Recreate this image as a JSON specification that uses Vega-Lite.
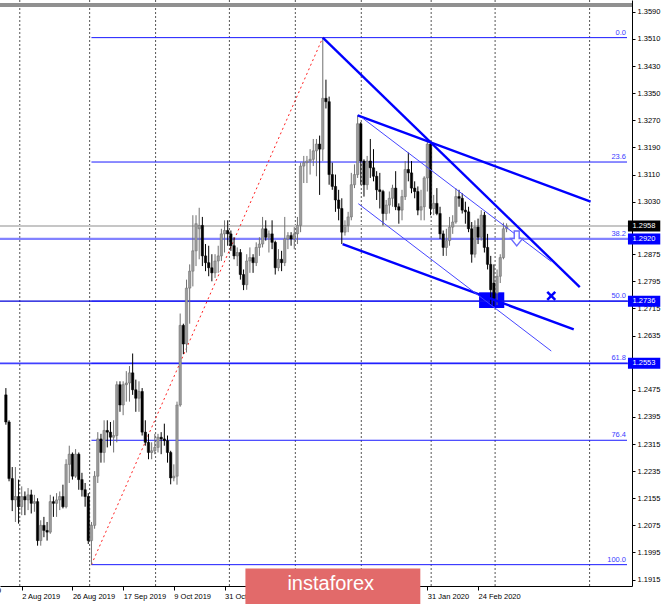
{
"$schema":"https://vega.github.io/schema/vega-lite/v6.json",
"width":632,"height":586,
"autosize":{"type":"none"},
"padding":{"left":0,"top":0,"right":33,"bottom":18},
"background":"white",
"config":{"view":{"stroke":null},"font":"Liberation Sans",
 "axis":{"labelOverlap":false},
 "axisX":{"orient":"bottom","title":null,"grid":false,
   "domainColor":"#000000","domainWidth":1,"tickColor":"#000000","tickSize":4,"labelFont":"Liberation Sans","labelFontSize":7.5,"labelColor":"#000000","labelAlign":"left","labelBaseline":"top","labelPadding":2,"labelDx":-3,"labelFlush":false,"labelOverlap":false,"labelBound":false},
 "axisY":{"orient":"right","title":null,"grid":false,
   "domainColor":"#000000","domainWidth":1,"tickColor":"#000000","tickSize":3,"labelFont":"Liberation Sans","labelFontSize":7.5,"labelColor":"#000000","labelAlign":"left","labelBaseline":"middle","labelPadding":2,"labelFlush":false,"labelOverlap":false,"labelBound":false}
},
"datasets":{
"candles":[
{"i":-5,"o":1.2460,"h":1.2480,"l":1.2372,"c":1.2380},
{"i":-4,"o":1.2380,"h":1.2385,"l":1.2205,"c":1.2213},
{"i":-3,"o":1.2213,"h":1.2247,"l":1.2117,"c":1.2150},
{"i":-2,"o":1.2150,"h":1.2247,"l":1.2085,"c":1.2160},
{"i":-1,"o":1.2160,"h":1.2210,"l":1.2080,"c":1.2130},
{"i":0,"o":1.2130,"h":1.2190,"l":1.2105,"c":1.2160},
{"i":1,"o":1.2160,"h":1.2175,"l":1.2105,"c":1.2150},
{"i":2,"o":1.2150,"h":1.2185,"l":1.2120,"c":1.2165},
{"i":3,"o":1.2165,"h":1.2180,"l":1.2110,"c":1.2140},
{"i":4,"o":1.2140,"h":1.2165,"l":1.2115,"c":1.2145},
{"i":5,"o":1.2145,"h":1.2155,"l":1.2015,"c":1.2030},
{"i":6,"o":1.2030,"h":1.2090,"l":1.2015,"c":1.2075},
{"i":7,"o":1.2075,"h":1.2100,"l":1.2040,"c":1.2060},
{"i":8,"o":1.2060,"h":1.2085,"l":1.2030,"c":1.2055},
{"i":9,"o":1.2055,"h":1.2165,"l":1.2050,"c":1.2145},
{"i":10,"o":1.2145,"h":1.2160,"l":1.2100,"c":1.2140},
{"i":11,"o":1.2140,"h":1.2170,"l":1.2100,"c":1.2150},
{"i":12,"o":1.2150,"h":1.2175,"l":1.2120,"c":1.2160},
{"i":13,"o":1.2160,"h":1.2195,"l":1.2125,"c":1.2130},
{"i":14,"o":1.2130,"h":1.2270,"l":1.2125,"c":1.2255},
{"i":15,"o":1.2255,"h":1.2310,"l":1.2200,"c":1.2285},
{"i":16,"o":1.2285,"h":1.2290,"l":1.2210,"c":1.2220},
{"i":17,"o":1.2220,"h":1.2300,"l":1.2215,"c":1.2285},
{"i":18,"o":1.2285,"h":1.2290,"l":1.2180,"c":1.2210},
{"i":19,"o":1.2210,"h":1.2230,"l":1.2160,"c":1.2180},
{"i":20,"o":1.2180,"h":1.2200,"l":1.2130,"c":1.2160},
{"i":21,"o":1.2160,"h":1.2170,"l":1.2020,"c":1.2030},
{"i":22,"o":1.2030,"h":1.2085,"l":1.1959,"c":1.2075},
{"i":23,"o":1.2075,"h":1.2235,"l":1.2065,"c":1.2220},
{"i":24,"o":1.2220,"h":1.2350,"l":1.2200,"c":1.2330},
{"i":25,"o":1.2330,"h":1.2345,"l":1.2260,"c":1.2290},
{"i":26,"o":1.2290,"h":1.2385,"l":1.2260,"c":1.2355},
{"i":27,"o":1.2355,"h":1.2385,"l":1.2305,"c":1.2350},
{"i":28,"o":1.2350,"h":1.2380,"l":1.2310,"c":1.2335},
{"i":29,"o":1.2335,"h":1.2385,"l":1.2290,"c":1.2340},
{"i":30,"o":1.2340,"h":1.2500,"l":1.2320,"c":1.2490},
{"i":31,"o":1.2490,"h":1.2500,"l":1.2410,"c":1.2430},
{"i":32,"o":1.2430,"h":1.2500,"l":1.2400,"c":1.2490},
{"i":33,"o":1.2490,"h":1.2530,"l":1.2440,"c":1.2495},
{"i":34,"o":1.2495,"h":1.2545,"l":1.2440,"c":1.2525},
{"i":35,"o":1.2525,"h":1.2582,"l":1.2460,"c":1.2475},
{"i":36,"o":1.2475,"h":1.2505,"l":1.2410,"c":1.2450},
{"i":37,"o":1.2450,"h":1.2500,"l":1.2410,"c":1.2470},
{"i":38,"o":1.2470,"h":1.2480,"l":1.2340,"c":1.2350},
{"i":39,"o":1.2350,"h":1.2385,"l":1.2310,"c":1.2320},
{"i":40,"o":1.2320,"h":1.2345,"l":1.2270,"c":1.2290},
{"i":41,"o":1.2290,"h":1.2320,"l":1.2270,"c":1.2295},
{"i":42,"o":1.2295,"h":1.2345,"l":1.2285,"c":1.2305},
{"i":43,"o":1.2305,"h":1.2345,"l":1.2290,"c":1.2335},
{"i":44,"o":1.2335,"h":1.2350,"l":1.2285,"c":1.2330},
{"i":45,"o":1.2330,"h":1.2375,"l":1.2310,"c":1.2325},
{"i":46,"o":1.2325,"h":1.2340,"l":1.2260,"c":1.2290},
{"i":47,"o":1.2290,"h":1.2295,"l":1.2196,"c":1.2215},
{"i":48,"o":1.2215,"h":1.2255,"l":1.2205,"c":1.2220},
{"i":49,"o":1.2220,"h":1.2440,"l":1.2195,"c":1.2430},
{"i":50,"o":1.2430,"h":1.2700,"l":1.2425,"c":1.2665},
{"i":51,"o":1.2665,"h":1.2670,"l":1.2580,"c":1.2610},
{"i":52,"o":1.2610,"h":1.2800,"l":1.2585,"c":1.2775},
{"i":53,"o":1.2775,"h":1.2845,"l":1.2670,"c":1.2825},
{"i":54,"o":1.2825,"h":1.2990,"l":1.2780,"c":1.2885},
{"i":55,"o":1.2885,"h":1.2990,"l":1.2840,"c":1.2965},
{"i":56,"o":1.2950,"h":1.3012,"l":1.2860,"c":1.2960},
{"i":57,"o":1.2960,"h":1.2985,"l":1.2840,"c":1.2870},
{"i":58,"o":1.2870,"h":1.2905,"l":1.2825,"c":1.2850},
{"i":59,"o":1.2850,"h":1.2900,"l":1.2810,"c":1.2835},
{"i":60,"o":1.2835,"h":1.2875,"l":1.2795,"c":1.2820},
{"i":61,"o":1.2820,"h":1.2875,"l":1.2805,"c":1.2855},
{"i":62,"o":1.2855,"h":1.2900,"l":1.2820,"c":1.2870},
{"i":63,"o":1.2870,"h":1.2950,"l":1.2855,"c":1.2935},
{"i":64,"o":1.2935,"h":1.2975,"l":1.2880,"c":1.2945},
{"i":65,"o":1.2945,"h":1.2975,"l":1.2900,"c":1.2935},
{"i":66,"o":1.2935,"h":1.2945,"l":1.2885,"c":1.2900},
{"i":67,"o":1.2900,"h":1.2925,"l":1.2860,"c":1.2870},
{"i":68,"o":1.2870,"h":1.2895,"l":1.2840,"c":1.2880},
{"i":69,"o":1.2880,"h":1.2890,"l":1.2800,"c":1.2815},
{"i":70,"o":1.2815,"h":1.2830,"l":1.2769,"c":1.2785},
{"i":71,"o":1.2785,"h":1.2875,"l":1.2770,"c":1.2855},
{"i":72,"o":1.2855,"h":1.2895,"l":1.2820,"c":1.2865},
{"i":73,"o":1.2865,"h":1.2875,"l":1.2820,"c":1.2850},
{"i":74,"o":1.2850,"h":1.2910,"l":1.2840,"c":1.2895},
{"i":75,"o":1.2895,"h":1.2925,"l":1.2870,"c":1.2905},
{"i":76,"o":1.2905,"h":1.2985,"l":1.2895,"c":1.2950},
{"i":77,"o":1.2950,"h":1.2975,"l":1.2915,"c":1.2925},
{"i":78,"o":1.2925,"h":1.2945,"l":1.2880,"c":1.2935},
{"i":79,"o":1.2935,"h":1.2975,"l":1.2890,"c":1.2910},
{"i":80,"o":1.2910,"h":1.2915,"l":1.2815,"c":1.2835},
{"i":81,"o":1.2835,"h":1.2890,"l":1.2825,"c":1.2860},
{"i":82,"o":1.2860,"h":1.2885,"l":1.2825,"c":1.2850},
{"i":83,"o":1.2850,"h":1.2985,"l":1.2840,"c":1.2920},
{"i":84,"o":1.2920,"h":1.2940,"l":1.2890,"c":1.2930},
{"i":85,"o":1.2930,"h":1.2940,"l":1.2900,"c":1.2920},
{"i":86,"o":1.2920,"h":1.2955,"l":1.2890,"c":1.2935},
{"i":87,"o":1.2935,"h":1.2985,"l":1.2905,"c":1.2960},
{"i":88,"o":1.2960,"h":1.3145,"l":1.2940,"c":1.3135},
{"i":89,"o":1.3135,"h":1.3165,"l":1.3085,"c":1.3145},
{"i":90,"o":1.3145,"h":1.3165,"l":1.3085,"c":1.3150},
{"i":91,"o":1.3150,"h":1.3185,"l":1.3110,"c":1.3155},
{"i":92,"o":1.3155,"h":1.3215,"l":1.3135,"c":1.3180},
{"i":93,"o":1.3180,"h":1.3215,"l":1.3105,"c":1.3200},
{"i":94,"o":1.3200,"h":1.3225,"l":1.3050,"c":1.3185},
{"i":95,"o":1.3185,"h":1.3514,"l":1.3150,"c":1.3335},
{"i":96,"o":1.3335,"h":1.3390,"l":1.3305,"c":1.3325},
{"i":97,"o":1.3325,"h":1.3340,"l":1.3080,"c":1.3110},
{"i":98,"o":1.3110,"h":1.3145,"l":1.3065,"c":1.3075},
{"i":99,"o":1.3075,"h":1.3110,"l":1.3000,"c":1.3035},
{"i":100,"o":1.3035,"h":1.3065,"l":1.2975,"c":1.3010},
{"i":101,"o":1.3010,"h":1.3040,"l":1.2905,"c":1.2940},
{"i":102,"o":1.2940,"h":1.2975,"l":1.2930,"c":1.2960},
{"i":103,"o":1.2960,"h":1.3000,"l":1.2940,"c":1.2985},
{"i":104,"o":1.2985,"h":1.3115,"l":1.2975,"c":1.3080},
{"i":105,"o":1.3080,"h":1.3140,"l":1.3070,"c":1.3110},
{"i":106,"o":1.3110,"h":1.3285,"l":1.3100,"c":1.3260},
{"i":107,"o":1.3260,"h":1.3265,"l":1.3080,"c":1.3150},
{"i":108,"o":1.3150,"h":1.3155,"l":1.3045,"c":1.3080},
{"i":109,"o":1.3080,"h":1.3165,"l":1.3065,"c":1.3150},
{"i":110,"o":1.3150,"h":1.3215,"l":1.3100,"c":1.3130},
{"i":111,"o":1.3130,"h":1.3185,"l":1.3090,"c":1.3105},
{"i":112,"o":1.3105,"h":1.3120,"l":1.3035,"c":1.3065},
{"i":113,"o":1.3065,"h":1.3115,"l":1.3010,"c":1.3060},
{"i":114,"o":1.3060,"h":1.3065,"l":1.2960,"c":1.2995},
{"i":115,"o":1.2995,"h":1.3035,"l":1.2975,"c":1.3020},
{"i":116,"o":1.3020,"h":1.3060,"l":1.2995,"c":1.3040},
{"i":117,"o":1.3040,"h":1.3080,"l":1.3015,"c":1.3070},
{"i":118,"o":1.3070,"h":1.3120,"l":1.3005,"c":1.3015},
{"i":119,"o":1.3015,"h":1.3025,"l":1.2965,"c":1.3005},
{"i":120,"o":1.3005,"h":1.3065,"l":1.2975,"c":1.3045},
{"i":121,"o":1.3045,"h":1.3150,"l":1.3035,"c":1.3125},
{"i":122,"o":1.3125,"h":1.3175,"l":1.3090,"c":1.3115},
{"i":123,"o":1.3115,"h":1.3150,"l":1.3055,"c":1.3070},
{"i":124,"o":1.3070,"h":1.3090,"l":1.3040,"c":1.3060},
{"i":125,"o":1.3060,"h":1.3075,"l":1.2990,"c":1.3005},
{"i":126,"o":1.3005,"h":1.3065,"l":1.2975,"c":1.3015},
{"i":127,"o":1.3015,"h":1.3105,"l":1.2975,"c":1.3100},
{"i":128,"o":1.3100,"h":1.3210,"l":1.3060,"c":1.3200},
{"i":129,"o":1.3200,"h":1.3210,"l":1.2990,"c":1.3010},
{"i":130,"o":1.3010,"h":1.3050,"l":1.2990,"c":1.3025},
{"i":131,"o":1.3025,"h":1.3070,"l":1.2990,"c":1.2995},
{"i":132,"o":1.2995,"h":1.3015,"l":1.2920,"c":1.2935},
{"i":133,"o":1.2935,"h":1.2945,"l":1.2870,"c":1.2895},
{"i":134,"o":1.2895,"h":1.2950,"l":1.2870,"c":1.2915},
{"i":135,"o":1.2915,"h":1.2985,"l":1.2900,"c":1.2955},
{"i":136,"o":1.2955,"h":1.2990,"l":1.2935,"c":1.2970},
{"i":137,"o":1.2970,"h":1.3070,"l":1.2965,"c":1.3045},
{"i":138,"o":1.3045,"h":1.3065,"l":1.3015,"c":1.3040},
{"i":139,"o":1.3040,"h":1.3055,"l":1.2995,"c":1.3005},
{"i":140,"o":1.3005,"h":1.3030,"l":1.2965,"c":1.3000},
{"i":141,"o":1.3000,"h":1.3015,"l":1.2940,"c":1.2950},
{"i":142,"o":1.2950,"h":1.2970,"l":1.2850,"c":1.2875},
{"i":143,"o":1.2875,"h":1.2975,"l":1.2865,"c":1.2955},
{"i":144,"o":1.2955,"h":1.2980,"l":1.2905,"c":1.2925},
{"i":145,"o":1.2925,"h":1.3005,"l":1.2915,"c":1.2990},
{"i":146,"o":1.2990,"h":1.3000,"l":1.2880,"c":1.2895},
{"i":147,"o":1.2895,"h":1.2935,"l":1.2830,"c":1.2845},
{"i":148,"o":1.2845,"h":1.2870,"l":1.2725,"c":1.2770},
{"i":149,"o":1.2790,"h":1.2845,"l":1.2722,"c":1.2745},
{"i":150,"o":1.2760,"h":1.2830,"l":1.2725,"c":1.2810},
{"i":151,"o":1.2810,"h":1.2875,"l":1.2790,"c":1.2865},
{"i":152,"o":1.2865,"h":1.2968,"l":1.2860,"c":1.2950},
{"i":153,"o":1.2950,"h":1.2966,"l":1.2940,"c":1.2958}
],
"grid":[{"x":-0.62},{"x":21.43},{"x":42.24},{"x":65.53},{"x":86.34},{"x":107.15},{"x":129.2},{"x":149.38},{"x":179.2}],
"fib":[{"x":22,"x2":191,"y":1.3514,"label":"0.0"},{"x":22,"x2":191,"y":1.3147,"label":"23.6"},{"x":22,"x2":191,"y":1.2920,"label":"38.2"},{"x":22,"x2":191,"y":1.27365,"label":"50.0"},{"x":22,"x2":191,"y":1.2553,"label":"61.8"},{"x":22,"x2":191,"y":1.2326,"label":"76.4"},{"x":22,"x2":191,"y":1.1959,"label":"100.0"}],
"thick":[{"x":95,"y":1.3514,"x2":176.1,"y2":1.27779},{"x":106,"y":1.3285,"x2":179.5,"y2":1.30303},{"x":101.25,"y":1.2905,"x2":174.2,"y2":1.26532}],
"thin":[{"x":107.5,"y":1.3277,"x2":167.1,"y2":1.28533},{"x":106.2,"y":1.30241,"x2":167.1,"y2":1.25894}],
"tags":[{"y":1.2958,"label":"1.2958","kind":"bid"},{"y":1.2920,"label":"1.2920","kind":"lvl"},{"y":1.27365,"label":"1.2736","kind":"lvl"},{"y":1.2553,"label":"1.2553","kind":"lvl"}]
},
"layer":[
{"data":{"name":"grid"},"mark":{"type":"rule","color":"#555555","strokeWidth":1,"strokeDash":[2,2]},
 "encoding":{"x":{"field":"x","type":"quantitative","title":null,"scale":{"domain":[-5.28,191.0],"nice":false,"zero":false},
  "axis":{"values":[0,16,32,48,64,80,96,112,128,144],"tickCount":60,"labelOverlap":false,"labelDx":-3,
   "labelExpr":"datum.value==0?'2 Aug 2019':datum.value==16?'26 Aug 2019':datum.value==32?'17 Sep 2019':datum.value==48?'9 Oct 2019':datum.value==64?'31 Oct 2019':datum.value==80?'22 Nov 2019':datum.value==96?'16 Dec 2019':datum.value==112?'9 Jan 2020':datum.value==128?'31 Jan 2020':'24 Feb 2020'"}}}},
{"data":{"values":[{"y":1.36103}]},"mark":{"type":"rule","color":"#909090","strokeWidth":4},
 "encoding":{"y":{"field":"y","type":"quantitative","title":null,"scale":{"domain":[1.19108,1.36103],"nice":false,"zero":false},
  "axis":{"values":[1.3590,1.3510,1.3430,1.3350,1.3270,1.3190,1.3110,1.3030,1.2875,1.2795,1.2715,1.2635,1.2475,1.2395,1.2315,1.2235,1.2155,1.2075,1.1995,1.1915],"tickCount":60,"format":".4f","labelOverlap":false,"labelSeparation":0}}}},
{"data":{"values":[{"x":144.32,"x2":152.27,"y":1.27626,"y2":1.27162}]},"mark":{"type":"rect","color":"#0000ff"},
 "encoding":{"x":{"field":"x","type":"quantitative","title":null,"scale":{"domain":[-5.28,191.0],"nice":false,"zero":false}},"x2":{"field":"x2"},
  "y":{"field":"y","type":"quantitative","title":null,"scale":{"domain":[1.19108,1.36103],"nice":false,"zero":false}},"y2":{"field":"y2"}}},
{"data":{"values":[{"y":1.2958}]},"mark":{"type":"rule","color":"#c6c6c6","strokeWidth":2},
 "encoding":{"y":{"field":"y","type":"quantitative","title":null,"scale":{"domain":[1.19108,1.36103],"nice":false,"zero":false}}}},
{"data":{"values":[{"y":1.2920}]},"mark":{"type":"rule","color":"#8282ff","strokeWidth":2.3},
 "encoding":{"y":{"field":"y","type":"quantitative","title":null,"scale":{"domain":[1.19108,1.36103],"nice":false,"zero":false}}}},
{"data":{"values":[{"y":1.27365}]},"mark":{"type":"rule","color":"#0000d8","strokeWidth":1.3},
 "encoding":{"y":{"field":"y","type":"quantitative","title":null,"scale":{"domain":[1.19108,1.36103],"nice":false,"zero":false}}}},
{"data":{"values":[{"y":1.2553}]},"mark":{"type":"rule","color":"#4040ff","strokeWidth":1.8},
 "encoding":{"y":{"field":"y","type":"quantitative","title":null,"scale":{"domain":[1.19108,1.36103],"nice":false,"zero":false}}}},
{"data":{"name":"fib"},"transform":[{"filter":"datum.label!='38.2'"}],"mark":{"type":"rule","color":"#1a1aff","strokeWidth":1},
 "encoding":{"x":{"field":"x","type":"quantitative","title":null,"scale":{"domain":[-5.28,191.0],"nice":false,"zero":false}},"x2":{"field":"x2"},
  "y":{"field":"y","type":"quantitative","title":null,"scale":{"domain":[1.19108,1.36103],"nice":false,"zero":false}}}},
{"data":{"values":[{"x":22,"y":1.1959,"x2":95,"y2":1.3514}]},"mark":{"type":"rule","color":"#ff2020","strokeWidth":1,"strokeDash":[2,3]},
 "encoding":{"x":{"field":"x","type":"quantitative","title":null,"scale":{"domain":[-5.28,191.0],"nice":false,"zero":false}},"x2":{"field":"x2"},
  "y":{"field":"y","type":"quantitative","title":null,"scale":{"domain":[1.19108,1.36103],"nice":false,"zero":false}},"y2":{"field":"y2"}}},
{"data":{"name":"candles"},"mark":{"type":"rule","strokeWidth":1},
 "encoding":{"x":{"field":"i","type":"quantitative","title":null,"scale":{"domain":[-5.28,191.0],"nice":false,"zero":false}},
  "y":{"field":"l","type":"quantitative","title":null,"scale":{"domain":[1.19108,1.36103],"nice":false,"zero":false}},"y2":{"field":"h"},
  "color":{"condition":{"test":"datum.c>=datum.o","value":"#707070"},"value":"#000000"}}},
{"data":{"name":"candles"},"mark":{"type":"bar","size":2.4,"strokeWidth":0.5},
 "encoding":{"x":{"field":"i","type":"quantitative","title":null,"scale":{"domain":[-5.28,191.0],"nice":false,"zero":false}},
  "y":{"field":"o","type":"quantitative","title":null,"scale":{"domain":[1.19108,1.36103],"nice":false,"zero":false}},"y2":{"field":"c"},
  "fill":{"condition":{"test":"datum.c>=datum.o","value":"#9c9c9c"},"value":"#000000"},
  "stroke":{"condition":{"test":"datum.c>=datum.o","value":"#6a6a6a"},"value":"#000000"}}},
{"data":{"name":"thick"},"mark":{"type":"rule","color":"#0000ff","strokeWidth":2.4},
 "encoding":{"x":{"field":"x","type":"quantitative","title":null,"scale":{"domain":[-5.28,191.0],"nice":false,"zero":false}},"x2":{"field":"x2"},
  "y":{"field":"y","type":"quantitative","title":null,"scale":{"domain":[1.19108,1.36103],"nice":false,"zero":false}},"y2":{"field":"y2"}}},
{"data":{"name":"thin"},"mark":{"type":"rule","color":"#4646ff","strokeWidth":1},
 "encoding":{"x":{"field":"x","type":"quantitative","title":null,"scale":{"domain":[-5.28,191.0],"nice":false,"zero":false}},"x2":{"field":"x2"},
  "y":{"field":"y","type":"quantitative","title":null,"scale":{"domain":[1.19108,1.36103],"nice":false,"zero":false}},"y2":{"field":"y2"}}},
{"data":{"values":[{"x":156.2,"y":1.29215}]},"mark":{"type":"point","shape":"M-0.33,-1L0.33,-1L0.33,0L0.8,0L0,1L-0.8,0L-0.33,0Z","size":225,"filled":true,"fill":"#ffffff","stroke":"#6a6aff","strokeWidth":1.4,"opacity":1},
 "encoding":{"x":{"field":"x","type":"quantitative","title":null,"scale":{"domain":[-5.28,191.0],"nice":false,"zero":false}},
  "y":{"field":"y","type":"quantitative","title":null,"scale":{"domain":[1.19108,1.36103],"nice":false,"zero":false}}}},
{"data":{"values":[{"x":167.1,"y":1.27518}]},"mark":{"type":"point","shape":"M-1,-1L1,1M1,-1L-1,1","size":64,"filled":false,"stroke":"#0000ff","strokeWidth":2.5,"opacity":1},
 "encoding":{"x":{"field":"x","type":"quantitative","title":null,"scale":{"domain":[-5.28,191.0],"nice":false,"zero":false}},
  "y":{"field":"y","type":"quantitative","title":null,"scale":{"domain":[1.19108,1.36103],"nice":false,"zero":false}}}},
{"data":{"name":"fib"},"mark":{"type":"text","align":"right","baseline":"bottom","dx":-1,"dy":-1,"font":"Liberation Sans","fontSize":7.5,"color":"#3c3cff"},
 "encoding":{"x":{"field":"x2","type":"quantitative","title":null,"scale":{"domain":[-5.28,191.0],"nice":false,"zero":false}},
  "y":{"field":"y","type":"quantitative","title":null,"scale":{"domain":[1.19108,1.36103],"nice":false,"zero":false}},"text":{"field":"label"}}},
{"data":{"name":"tags"},"mark":{"type":"bar","size":11,"orient":"horizontal"},
 "encoding":{"x":{"datum":191.3,"type":"quantitative","title":null,"scale":{"domain":[-5.28,191.0],"nice":false,"zero":false}},"x2":{"datum":201.5},
  "y":{"field":"y","type":"quantitative","title":null,"scale":{"domain":[1.19108,1.36103],"nice":false,"zero":false}},
  "color":{"condition":{"test":"datum.kind=='bid'","value":"#000000"},"value":"#0000ff"}}},
{"data":{"name":"tags"},"mark":{"type":"text","align":"left","baseline":"middle","dx":5.5,"font":"Liberation Sans","fontSize":7.5,"color":"#ffffff"},
 "encoding":{"x":{"datum":191.0,"type":"quantitative","title":null,"scale":{"domain":[-5.28,191.0],"nice":false,"zero":false}},
  "y":{"field":"y","type":"quantitative","title":null,"scale":{"domain":[1.19108,1.36103],"nice":false,"zero":false}},"text":{"field":"label"}}},
{"data":{"values":[{"t":"11 Jul 2019"}]},"mark":{"type":"text","align":"left","baseline":"top","dx":-8,"dy":6,"font":"Liberation Sans","fontSize":7.5,"color":"#000000"},
 "encoding":{"x":{"datum":-16,"type":"quantitative","title":null,"scale":{"domain":[-5.28,191.0],"nice":false,"zero":false}},
  "y":{"datum":1.19108,"type":"quantitative","title":null,"scale":{"domain":[1.19108,1.36103],"nice":false,"zero":false}},"text":{"field":"t"}}},
{"data":{"values":[{"x":70.59,"x2":125.78,"y":1.19476,"y2":1.18}]},"mark":{"type":"rect","color":"#e26a6a"},
 "encoding":{"x":{"field":"x","type":"quantitative","title":null,"scale":{"domain":[-5.28,191.0],"nice":false,"zero":false}},"x2":{"field":"x2"},
  "y":{"field":"y","type":"quantitative","title":null,"scale":{"domain":[1.19108,1.36103],"nice":false,"zero":false}},"y2":{"field":"y2"}}},
{"data":{"values":[{"x":97.52,"y":1.18847,"t":"instaforex"}]},"mark":{"type":"text","align":"center","baseline":"alphabetic","font":"Liberation Sans","fontSize":20,"color":"#ffffff"},
 "encoding":{"x":{"field":"x","type":"quantitative","title":null,"scale":{"domain":[-5.28,191.0],"nice":false,"zero":false}},
  "y":{"field":"y","type":"quantitative","title":null,"scale":{"domain":[1.19108,1.36103],"nice":false,"zero":false}},"text":{"field":"t"}}}
]
}
